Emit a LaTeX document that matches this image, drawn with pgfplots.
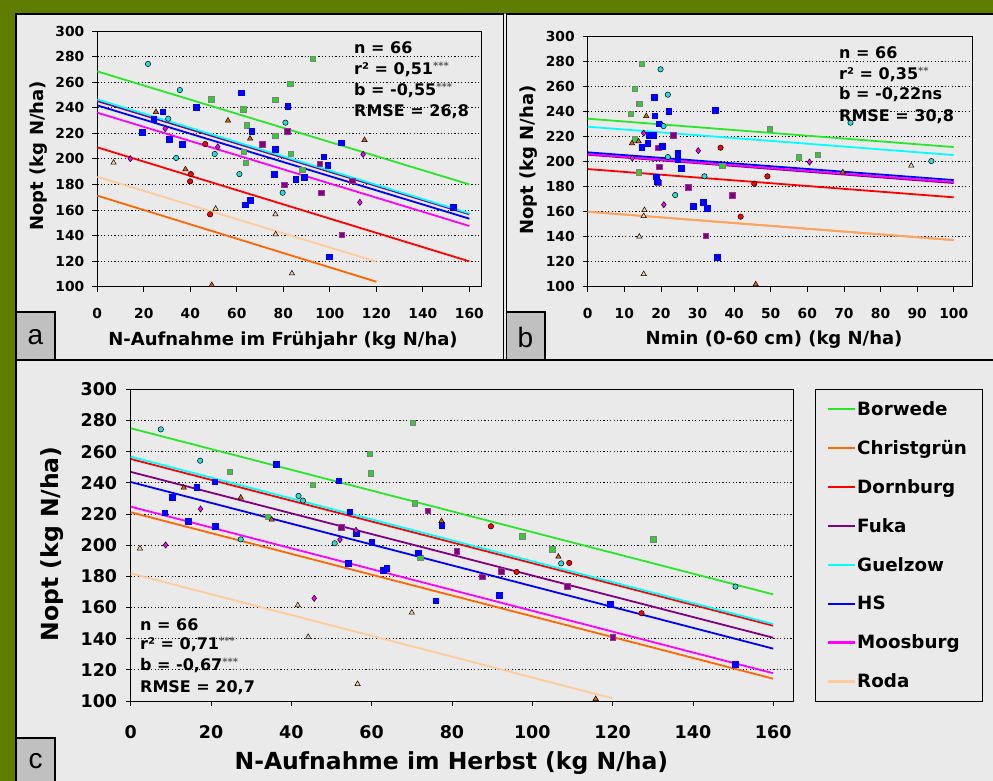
\documentclass[border=0pt]{standalone}
\usepackage{pgfplots}
\pgfplotsset{compat=1.18}
\usepackage{fontspec}
\setmainfont{DejaVu Sans}
\newfontfamily\labfont{Liberation Sans}
\definecolor{frameolive}{RGB}{95,125,0}
\definecolor{panelbg}{RGB}{234,234,234}
\definecolor{labbox}{RGB}{192,192,192}
\definecolor{cBor}{RGB}{40,230,40}
\definecolor{cBorM}{RGB}{50,205,50}
\definecolor{cChr}{RGB}{255,102,0}
\definecolor{cChrM}{RGB}{225,95,10}
\definecolor{cDor}{RGB}{255,0,0}
\definecolor{cFuk}{RGB}{128,0,128}
\definecolor{cGue}{RGB}{0,255,255}
\definecolor{cGueM}{RGB}{40,220,220}
\definecolor{cHS}{RGB}{0,0,255}
\definecolor{cMoo}{RGB}{255,0,255}
\definecolor{cRod}{RGB}{255,204,153}
\definecolor{starc}{RGB}{90,90,90}
\pgfplotsset{
  myaxis/.style={
    scale only axis, clip=false,
    xmin=0, ymin=100, ymax=300,
    ytick={100,120,...,300},
    axis background/.style={fill=panelbg},
    axis line style={black, line width=0.9pt},
    tick style={black, line width=0.8pt},
    tick align=outside, major tick length=5pt,
    xtick pos=bottom, ytick pos=left,
    ymajorgrids,
    major grid style={black, line width=0.8pt, dash pattern=on 1.3pt off 2.1pt},
    /pgf/number format/assume math mode=true,
    tick label style={font=\bfseries\fontsize{13.8}{14}\selectfont},
    xticklabel style={yshift=-13pt},
    yticklabel style={xshift=-4.5pt},
    label style={font=\bfseries\fontsize{18}{18}\selectfont},
  },
  lBor/.style={draw=cBor, line width=1.8pt},
  lChr/.style={draw=cChr, line width=1.8pt},
  lDor/.style={draw=cDor, line width=1.8pt},
  lFuk/.style={draw=cFuk, line width=1.8pt},
  lGue/.style={draw=cGue, line width=1.8pt},
  lHS/.style={draw=cHS, line width=1.8pt},
  lMoo/.style={draw=cMoo, line width=1.8pt},
  lRod/.style={draw=cRod, line width=1.8pt},
  mBor/.style={only marks, forget plot, mark=square*, mark size=2.7pt, mark options={fill=cBorM, draw=gray, line width=0.6pt}},
  mChr/.style={only marks, forget plot, mark=triangle*, mark size=3.1pt, mark options={fill=cChrM, draw=black, line width=0.5pt}},
  mDor/.style={only marks, forget plot, mark=*, mark size=2.7pt, mark options={fill=cDor, draw=black, line width=0.5pt}},
  mFuk/.style={only marks, forget plot, mark=square*, mark size=2.8pt, mark options={fill=cFuk, draw=cFuk!80, line width=0.5pt}},
  mGue/.style={only marks, forget plot, mark=*, mark size=2.7pt, mark options={fill=cGueM, draw=black, line width=0.5pt}},
  mHS/.style={only marks, forget plot, mark=square*, mark size=2.8pt, mark options={fill=cHS, draw=cHS, line width=0.4pt}},
  mMoo/.style={only marks, forget plot, mark=diamond*, mark size=3.1pt, mark options={fill=cMoo, draw=black, line width=0.5pt}},
  mRod/.style={only marks, forget plot, mark=triangle*, mark size=3.1pt, mark options={fill=cRod, draw=black, line width=0.5pt}},
}
\newcommand{\st}[1]{\raisebox{5pt}{\fontsize{10}{10}\selectfont\color{starc}#1}}
\begin{document}
\begin{tikzpicture}
\clip (0pt,0pt) rectangle (993pt,781pt);
\fill[frameolive] (0pt,0pt) rectangle (993pt,781pt);
\fill[panelbg] (16pt,-5pt) rectangle (1000pt,767pt);
\draw[black, line width=1.4pt] (16pt,421pt) rectangle (503.5pt,767pt);
\draw[black, line width=1.4pt] (506.5pt,421pt) rectangle (1000pt,767pt);
\draw[black, line width=1.4pt] (16pt,-5pt) rectangle (1000pt,421pt);
% panel labels
\draw[black, line width=1.2pt, fill=labbox] (16pt,421pt) rectangle (55pt,469pt);
\node[font=\labfont\fontsize{28}{28}\selectfont] at (35.5pt,444pt) {a};
\draw[black, line width=1.2pt, fill=labbox] (506.5pt,421pt) rectangle (545pt,469pt);
\node[font=\labfont\fontsize{28}{28}\selectfont] at (525.5pt,444pt) {b};
\draw[black, line width=1.2pt, fill=labbox] (16pt,-5pt) rectangle (55pt,43pt);
\node[font=\labfont\fontsize{28}{28}\selectfont] at (35.5pt,20pt) {c};

% ---------------- panel a
\begin{axis}[myaxis, at={(97.3pt,494.3pt)}, anchor=south west,
  width=383.7pt, height=255.7pt, xmax=165, xtick={0,20,...,160},
  xlabel={N-Aufnahme im Frühjahr (kg N/ha)}, ylabel={Nopt (kg N/ha)},
  xlabel style={at={(axis description cs:0.484,-0.2085)}, anchor=center},
  ylabel style={at={(axis description cs:-0.152,0.512)}, anchor=center},
]
\addplot[lRod] coordinates {(0,186) (120,119.6)};
\addplot[lChr] coordinates {(0,171.2) (120,103.9)};
\addplot[lDor] coordinates {(0,209) (160,119.8)};
\addplot[lMoo] coordinates {(0,236.1) (160,147.5)};
\addplot[lHS] coordinates {(0,241.8) (160,153.2)};
\addplot[lFuk] coordinates {(0,245.2) (160,156.6)};
\addplot[lGue] coordinates {(0,246.5) (160,157.4)};
\addplot[lBor] coordinates {(0,268.4) (160,180)};
\addplot[mBor] coordinates {(92.7,278.4) (83,258.5) (49.1,246.5) (76.6,246.3) (62.8,238.7) (64.3,226.2) (76.6,217.9) (63,205.3) (83.1,204) (63.8,197) (88.2,191.5)};
\addplot[mChr] coordinates {(25.2,236.6) (56.2,229.9) (65.7,215.8) (114.9,214.7) (37.9,191.8) (49.2,101.3)};
\addplot[mDor] coordinates {(46.4,211.6) (40.2,188.1) (39.9,182.4) (48.5,156.6)};
\addplot[mFuk] coordinates {(81.6,221.5) (71,211.6) (95.6,196.2) (80.3,179.8) (96.3,173.5) (109.6,182.9) (105.2,140.7)};
\addplot[mGue] coordinates {(21.8,274.2) (35.5,253.8) (30.5,231.4) (80.9,228.3) (33.9,200.7) (50.5,203.8) (61.1,188.1) (79.7,173.5)};
\addplot[mHS] coordinates {(61.8,251.8) (81.9,241.3) (28.2,236.9) (42.5,240.3) (24.3,230.9) (19.2,221) (30.9,215.3) (66.4,221.5) (36.5,211.6) (76.4,207.4) (104.8,212.6) (97.3,201.7) (99,194.9) (76.1,188.1) (85.3,184.2) (89,185.5) (65.8,167.8) (63.5,164.1) (99.6,123.5) (153.1,162.3)};
\addplot[mMoo] coordinates {(29.2,223.6) (14.2,200.1) (51.8,209.3) (114.3,203.5) (112.9,166)};
\addplot[mRod] coordinates {(7,197) (50.9,161) (76.6,156.6) (76.7,141) (83.7,110.4)};
\end{axis}

% ---------------- panel b
\begin{axis}[myaxis, at={(587.7pt,494.3pt)}, anchor=south west,
  width=384.3pt, height=250pt, xmax=105, xtick={0,10,...,100},
  xlabel={Nmin (0-60 cm) (kg N/ha)}, ylabel={Nopt (kg N/ha)},
  xlabel style={at={(axis description cs:0.485,-0.213)}, anchor=center},
  ylabel style={at={(axis description cs:-0.153,0.507)}, anchor=center},
]
\addplot[lChr] coordinates {(0,160) (100,137.3)};
\addplot[lRod, opacity=0.6] coordinates {(0,160) (100,137.3)};
\addplot[lDor] coordinates {(0,194.1) (100,171.5)};
\addplot[lFuk] coordinates {(0,205.6) (100,182.9)};
\addplot[lMoo] coordinates {(0,206.1) (100,183.7)};
\addplot[lHS] coordinates {(0,207.5) (100,185.3)};
\addplot[lGue] coordinates {(0,228) (100,205.3)};
\addplot[lBor] coordinates {(0,234.4) (100,211.7)};
\addplot[mBor] coordinates {(14.8,278.4) (12.8,258.4) (13.9,246.4) (14.2,246.3) (11.8,238.4) (12.8,217.9) (49.7,226.4) (57.7,203.5) (62.9,205.3) (36.8,196.8) (13.9,191.5)};
\addplot[mChr] coordinates {(16,236.5) (12.1,214.7) (13.9,216.3) (69.7,191.5) (45.9,101.9) (20.2,230)};
\addplot[mDor] coordinates {(36.3,211.2) (49.1,188.3) (45.5,182.4) (41.8,156)};
\addplot[mFuk] coordinates {(23.3,221.3) (19.2,211.2) (19.5,196) (27.5,179.7) (39.5,173.3) (19.2,183.2) (32.2,140.8)};
\addplot[mGue] coordinates {(19.9,273.9) (21.9,253.6) (20.7,228.5) (71.8,231.2) (93.9,200.5) (21.9,203.7) (31.9,188.3) (23.9,173.3)};
\addplot[mHS] coordinates {(18.2,251.5) (34.8,241.4) (18.3,236.8) (22.1,240.3) (19.4,230.4) (16.7,221.4) (17.9,221.4) (16.4,215) (14.8,211.8) (20.3,212.6) (24.6,207) (24.6,201.6) (25.5,194.7) (18.7,188) (18.8,185.4) (19,184) (28.8,164.6) (31.5,167.8) (32.6,163) (35.3,123.8)};
\addplot[mMoo] coordinates {(15.3,222.9) (12.2,202.9) (30.2,208.8) (60.6,199.7) (20.8,165.6)};
\addplot[mRod] coordinates {(88.4,196.8) (15.5,161.3) (15.3,156.5) (14.1,140) (15.3,110.1)};
\end{axis}

% ---------------- panel c
\begin{axis}[myaxis, at={(130.7pt,80pt)}, anchor=south west,
  width=662.6pt, height=311.7pt, xmax=165, xtick={0,20,...,160},
  tick label style={font=\bfseries\fontsize{17.5}{18}\selectfont},
  xticklabel style={yshift=-3pt},
  yticklabel style={xshift=-0.5pt},
  label style={font=\bfseries\fontsize{23.5}{24}\selectfont},
  xlabel={N-Aufnahme im Herbst (kg N/ha)}, ylabel={Nopt (kg N/ha)},
  xlabel style={at={(axis description cs:0.484,-0.199)}, anchor=center},
  ylabel style={at={(axis description cs:-0.119,0.504)}, anchor=center},
  legend style={at={(axis description cs:1.0328,1.0)}, anchor=north west,
    draw=black, fill=panelbg,
    font=\bfseries\fontsize{18.3}{19}\selectfont,
    row sep=19.5pt, inner xsep=13pt, inner ysep=10pt, cells={anchor=west}},
  legend image code/.code={\path[draw=none,#1] (0pt,-1.1pt) rectangle (27pt,1.1pt);},
]
\addplot[lBor, forget plot] coordinates {(0,275) (160,168.4)};
\addplot[lChr, forget plot] coordinates {(0,221.1) (160,114.3)};
\addplot[lDor, forget plot] coordinates {(0,255.3) (160,148.3)};
\addplot[lFuk, forget plot] coordinates {(0,247) (160,140.6)};
\addplot[lGue, forget plot] coordinates {(0,256.8) (160,149.4)};
\addplot[lHS, forget plot] coordinates {(0,240.5) (160,133.6)};
\addplot[lMoo, forget plot] coordinates {(0,224.7) (160,117.8)};
\addplot[lRod, forget plot] coordinates {(0,181.9) (120,101.7)};
\addlegendimage{fill=cBor} \addlegendentry{Borwede}
\addlegendimage{fill=cChr} \addlegendentry{Christgrün}
\addlegendimage{fill=cDor} \addlegendentry{Dornburg}
\addlegendimage{fill=cFuk} \addlegendentry{Fuka}
\addlegendimage{fill=cGue} \addlegendentry{Guelzow}
\addlegendimage{fill=cHS} \addlegendentry{HS}
\addlegendimage{fill=cMoo} \addlegendentry{Moosburg}
\addlegendimage{fill=cRod} \addlegendentry{Roda}
\addplot[mBor] coordinates {(70.3,278.6) (59.5,258.5) (59.8,246.1) (24.7,247) (45.4,238.8) (70.8,226.8) (34.1,218.1) (72.1,191.8) (97.5,205.7) (130.1,203.7) (105,197.3)};
\addplot[mChr] coordinates {(13.2,236.9) (27.4,230.5) (35.1,216.4) (106.5,192.6) (115.8,101.3)};
\addplot[mDor] coordinates {(89.7,212.1) (109.2,188.6) (96.1,182.8) (127.2,156.3)};
\addplot[mFuk] coordinates {(74,222.1) (52.4,211.4) (81.2,196) (92.2,183.4) (87.6,179.8) (108.75,173.8) (120,140.9)};
\addplot[mGue] coordinates {(7.5,274.3) (17.3,254.2) (41.8,231.6) (42.9,228.6) (27.4,203.7) (50.8,201.2) (107.2,188.3) (150.6,173.4)};
\addplot[mHS] coordinates {(36.3,252.1) (51.8,241.4) (16.4,237.1) (20.9,240.7) (10.3,230.9) (8.5,220.9) (14.3,215.3) (21,212.1) (54.5,221.5) (56.2,207.6) (60,201.8) (71.6,195.2) (54.2,188.3) (62.9,184.1) (63.7,185.1) (75.9,164.4) (91.7,167.8) (119.4,162.2) (150.6,123.7) (77.4,212.7)};
\addplot[mChr] coordinates {(77.4,215.5)};
\addplot[mMoo] coordinates {(17.4,223.2) (8.7,200.1) (56.1,209.5) (52.1,203.5) (45.7,165.9)};
\addplot[mRod] coordinates {(2.3,197.8) (41.6,161.4) (44.2,141.1) (70,156.7) (56.5,110.9)};
\end{axis}

% ---------------- statistics
\begin{scope}[every node/.style={anchor=west, inner sep=0pt, font=\bfseries\fontsize{16}{16}\selectfont}]
\node at (354pt,733pt) {n = 66};
\node at (354pt,712pt) {r² = 0,51\st{***}};
\node at (354pt,691pt) {b = -0,55\st{***}};
\node at (354pt,669pt) {RMSE = 26,8};
\node at (839pt,728pt) {n = 66};
\node at (839pt,707pt) {r² = 0,35\st{**}};
\node at (839pt,686pt) {b = -0,22ns};
\node at (839pt,664pt) {RMSE = 30,8};
\node at (140pt,156pt) {n = 66};
\node at (140pt,137pt) {r² = 0,71\st{***}};
\node at (140pt,116pt) {b = -0,67\st{***}};
\node at (140pt,93pt) {RMSE = 20,7};
\end{scope}
\end{tikzpicture}
\end{document}
